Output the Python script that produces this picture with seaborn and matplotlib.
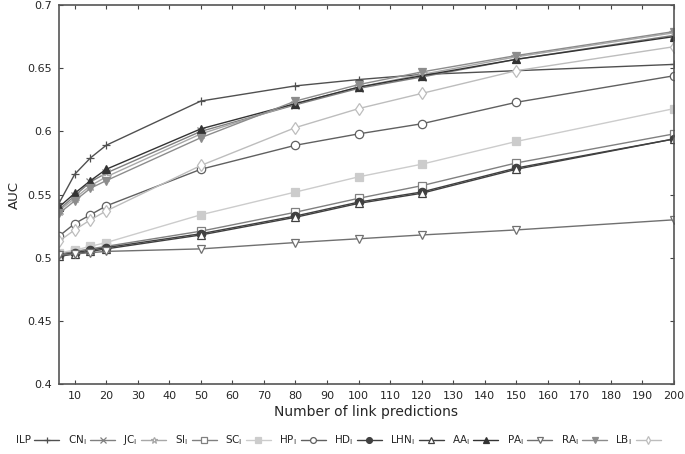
import pandas as pd
import seaborn as sns
import matplotlib.pyplot as plt

x_vals = [5, 10, 15, 20, 50, 80, 100, 120, 150, 200]

methods = ['ILP', 'CN', 'JC', 'SI', 'SC', 'HP', 'HD', 'LHN', 'AA', 'PA', 'RA', 'LB']

ilp = [0.543, 0.566, 0.579, 0.589, 0.624, 0.636, 0.641, 0.645, 0.648, 0.653]
cn = [0.538, 0.549, 0.560, 0.567, 0.600, 0.621, 0.634, 0.643, 0.657, 0.676]
jc = [0.537, 0.547, 0.557, 0.564, 0.598, 0.622, 0.635, 0.645, 0.659, 0.678]
si = [0.503, 0.505, 0.507, 0.509, 0.521, 0.536, 0.547, 0.557, 0.575, 0.598]
sc = [0.504, 0.506, 0.509, 0.512, 0.534, 0.552, 0.564, 0.574, 0.592, 0.618]
hp = [0.517, 0.527, 0.534, 0.541, 0.570, 0.589, 0.598, 0.606, 0.623, 0.644]
hd = [0.502, 0.504, 0.506, 0.508, 0.519, 0.533, 0.544, 0.552, 0.571, 0.594]
lhn = [0.501, 0.503, 0.505, 0.507, 0.518, 0.532, 0.543, 0.551, 0.570, 0.594]
aa = [0.540, 0.551, 0.561, 0.570, 0.602, 0.622, 0.635, 0.644, 0.657, 0.675]
pa = [0.502, 0.503, 0.504, 0.505, 0.507, 0.512, 0.515, 0.518, 0.522, 0.530]
ra = [0.535, 0.545, 0.555, 0.561, 0.595, 0.624, 0.637, 0.647, 0.660, 0.679]
lb = [0.513, 0.522, 0.530, 0.537, 0.573, 0.603, 0.618, 0.630, 0.648, 0.667]

series = [ilp, cn, jc, si, sc, hp, hd, lhn, aa, pa, ra, lb]

# marker, colour, filled
styles = {
    'ILP': ('+', '#505050', True),
    'CN': ('x', '#808080', True),
    'JC': ('*', '#a8a8a8', False),
    'SI': ('s', '#808080', False),
    'SC': ('s', '#cccccc', True),
    'HP': ('o', '#606060', False),
    'HD': ('o', '#404040', True),
    'LHN': ('^', '#404040', False),
    'AA': ('^', '#333333', True),
    'PA': ('v', '#707070', False),
    'RA': ('v', '#8c8c8c', True),
    'LB': ('d', '#bdbdbd', False),
}

rows = []
for m, vals in zip(methods, series):
    for xv, yv in zip(x_vals, vals):
        rows.append({'method': m, 'n': xv, 'auc': yv})
df = pd.DataFrame(rows)

sns.set_style('ticks')
plt.rcParams['font.family'] = ['DejaVu Sans']

fig, ax = plt.subplots(figsize=(6.85, 4.54), dpi=100)
fig.subplots_adjust(left=0.086, right=0.984, top=0.989, bottom=0.154)

for m in methods:
    mk, col, filled = styles[m]
    label = m if m == 'ILP' else m + r'$_\mathrm{I}$'
    sns.lineplot(data=df[df.method == m], x='n', y='auc', ax=ax, color=col,
                 marker=mk, markersize=6 if mk != '*' else 7,
                 markerfacecolor=col if filled else 'white',
                 markeredgecolor=col, markeredgewidth=0.9,
                 linewidth=1.0, label=label)

ax.set_xlim(5, 200)
ax.set_ylim(0.4, 0.7)
ax.set_xticks(range(10, 201, 10))
ax.set_yticks([0.4, 0.45, 0.5, 0.55, 0.6, 0.65, 0.7])
ax.set_yticklabels(['0.4', '0.45', '0.5', '0.55', '0.6', '0.65', '0.7'])
ax.tick_params(direction='in', top=True, right=True, labelsize=8, length=3,
               color='#444444', pad=5)
for s in ax.spines.values():
    s.set_color('#555555')
    s.set_linewidth(1.2)
ax.set_xlabel('Number of link predictions', fontsize=10, labelpad=3)
ax.set_ylabel('AUC', fontsize=9.5)
ax.yaxis.set_label_coords(-0.062, 0.5)

ax.legend(loc='center', bbox_to_anchor=(0.454, -0.148), ncol=12, frameon=False,
          markerfirst=False, fontsize=7.5, handlelength=2.4, columnspacing=0.8,
          handletextpad=0.35, markerscale=0.7, borderaxespad=0)

plt.savefig('out.png', dpi=100)
